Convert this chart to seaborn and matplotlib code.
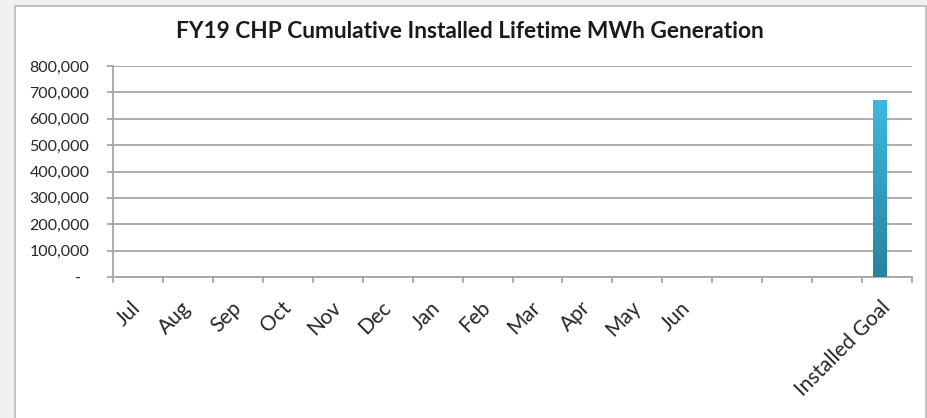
import numpy as np
import pandas as pd
import matplotlib
matplotlib.use("Agg")
import matplotlib.pyplot as plt
from matplotlib.patches import Rectangle
from matplotlib.colors import LinearSegmentedColormap
from matplotlib.ticker import FuncFormatter, MultipleLocator
import seaborn as sns

# data
months = ["Jul", "Aug", "Sep", "Oct", "Nov", "Dec", "Jan", "Feb", "Mar", "Apr", "May", "Jun"]
spacers = [" ", "  ", "   "]
goal_label = "Installed Goal"
categories = months + spacers + [goal_label]
installed_goal = [0] * 15 + [670000]
installed_actual = [0] * 16
tick_labels = months + ["", "", "", goal_label]

data = pd.DataFrame({
    "category": categories * 2,
    "value": installed_goal + installed_actual,
    "series": ["Goal"] * 16 + ["Actual"] * 16,
})

sns.set_theme(style="white")
plt.rcParams["font.family"] = ["Lato", "DejaVu Sans"]

W, H = 928, 418
fig = plt.figure(figsize=(W / 100, H / 100), dpi=100, facecolor="#f0f0f0")

# chart area box
fig.patches.append(Rectangle((15 / W, -0.05), (926 - 15) / W, 1.05 - 6 / H,
                             transform=fig.transFigure, facecolor="white",
                             edgecolor="#b8b8b8", linewidth=1.2, zorder=-10))

ax = fig.add_axes([113 / W, (H - 277) / H, 799 / W, 211 / H])
ax.set_facecolor("none")

sns.barplot(data=data, x="category", y="value", hue="series", order=categories,
            hue_order=["Goal", "Actual"], width=0.56, dodge=True,
            palette=["#33a8c9", "#33a8c9"], linewidth=0, legend=False, ax=ax,
            zorder=3)

# gradient fill on the goal bar
grad = LinearSegmentedColormap.from_list("g", ["#2a829c", "#3bbade"])
for bar in ax.patches:
    h = bar.get_height()
    if h > 0:
        x0 = bar.get_x()
        w = bar.get_width()
        img = ax.imshow(np.linspace(0, 1, 256).reshape(-1, 1), cmap=grad,
                        origin="lower", aspect="auto",
                        extent=[x0, x0 + w, 0, h], zorder=4)
        img.set_clip_path(bar)

ax.set_xlim(-0.5, 15.5)
ax.set_ylim(0, 800000)
ax.yaxis.set_major_locator(MultipleLocator(100000))
ax.yaxis.set_major_formatter(FuncFormatter(lambda v, p: "-  " if v == 0 else f"{int(v):,}"))
ax.grid(axis="y", color="#a6a6a6", linewidth=1.3, zorder=1)
ax.set_axisbelow(True)

for s in ["top", "right"]:
    ax.spines[s].set_visible(False)
for s in ["left", "bottom"]:
    ax.spines[s].set_color("#a6a6a6")
    ax.spines[s].set_linewidth(1.3)

ax.set_xlabel("")
ax.set_ylabel("")
ax.set_xticks(range(16))
ax.set_xticklabels(tick_labels, rotation=45, ha="right", va="center",
                   rotation_mode="anchor", fontsize=15)
ax.set_xticks(np.arange(-0.5, 16, 1), minor=True)
ax.tick_params(axis="x", which="major", length=0, pad=20)
ax.tick_params(axis="x", which="minor", length=4.5, width=1.3, color="#a6a6a6", bottom=True)
ax.tick_params(axis="y", length=4.5, width=1.3, color="#a6a6a6", left=True, pad=12.5,
               labelsize=11.5)
for t in ax.get_yticklabels() + ax.get_xticklabels():
    t.set_color("#262626")

fig.text(470 / W, 1 - 32 / H, "FY19 CHP Cumulative Installed Lifetime MWh Generation",
         ha="center", va="center", fontsize=16.3, fontweight="bold", color="#1a1a1a")

fig.savefig("out.png", dpi=100, facecolor=fig.get_facecolor())
